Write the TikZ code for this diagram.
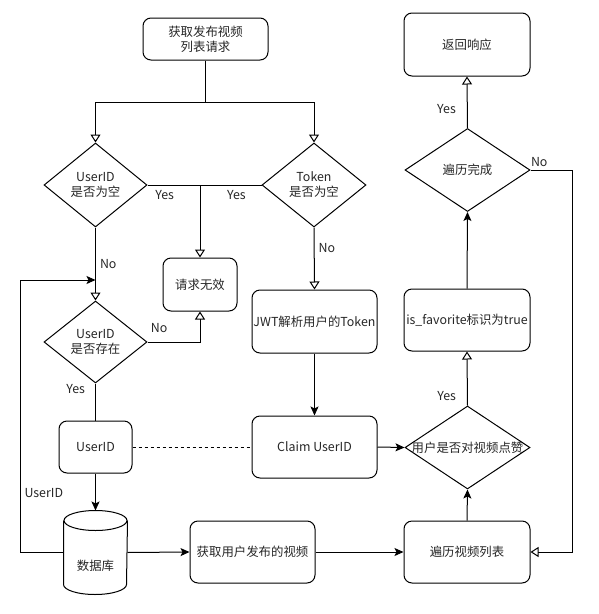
\documentclass[tikz,border=0pt]{standalone}
\usepackage{fontspec}
\setmainfont{Noto Sans CJK SC}
\usetikzlibrary{shapes.geometric,arrows.meta}

\begin{document}
\begin{tikzpicture}[x=1pt,y=-1pt,line width=1pt,
    font=\fontsize{12.4}{15}\selectfont, text=black!85,
    box/.style={draw, rounded corners=8pt, align=center, inner sep=0pt,
      minimum width=125pt, minimum height=62pt},
    smallbox/.style={box, minimum width=73pt, minimum height=53pt},
    choice/.style={draw, diamond, inner sep=0pt, minimum width=125pt, minimum height=83pt},
    opentip/.style={-{Triangle[open,length=8pt,width=10pt]}},
    solidtip/.style={-{Stealth[length=9pt,width=8pt,inset=2pt]}},
    lbl/.style={inner sep=0pt}]
  \useasboundingbox (0,0) rectangle (598,614);

  % request and the two checks
  \node[box, minimum height=42pt] (req) at (205.5,39) {获取发布视频\\列表请求};
  \node[choice, minimum width=103pt, minimum height=84pt,
    label={[align=center]center:UserID\\是否为空}] (idnull) at (95.5,185) {};
  \node[choice, minimum width=104pt, minimum height=84pt,
    label={[align=center]center:Token\\是否为空}] (toknull) at (314,185) {};
  \node[smallbox, minimum width=74pt] (invalid) at (200,284.5) {请求无效};
  \node[choice, minimum width=103pt, minimum height=82pt,
    label={[align=center]center:UserID\\是否存在}] (idexist) at (95.5,342) {};
  \node[smallbox, minimum height=52pt] (idbox) at (95.5,447) {UserID};
  \node[minimum width=63pt, minimum height=83pt, inner sep=0pt,
    label={[yshift=-13pt]center:数据库}] (db) at (95.5,552.5) {};
  \coordinate (entry) at (95.5,280);

  % token branch
  \node[box, minimum height=63pt] (jwt) at (314.5,321.5) {JWT解析用户的Token};
  \node[box] (claim) at (314.5,447) {Claim UserID};
  \node[box] (fetch) at (252.5,552) {获取用户发布的视频};

  % right column
  \node[box, minimum width=126pt, minimum height=63pt] (resp) at (467,44.5) {返回响应};
  \node[choice, label=center:遍历完成] (done) at (467.5,170) {};
  \node[box, minimum width=126pt] (fav) at (467,320) {is\_favorite标识为true};
  \node[choice, label={center:用户是否对视频点赞}] (like) at (467.5,447.5) {};
  \node[box, minimum width=126pt] (trav) at (467,552) {遍历视频列表};

  % cylinder
  \draw ([yshift=-10pt]db.north) ellipse [x radius=31.5pt, y radius=10pt];
  \draw ([yshift=-10pt]db.north west) -- ([yshift=10pt]db.south west)
    arc[start angle=180, end angle=360, x radius=31.5pt, y radius=10pt]
    -- ([yshift=-10pt]db.north east);

  % connectors
  \draw[opentip] (req.south) -- ++(0,42) -| (idnull.north);
  \draw[opentip] (req.south) -- ++(0,42) -| (toknull.north);
  \draw (idnull.east) -- (toknull.west)
    node[lbl, pos=0.15, below=5pt] {Yes}
    node[lbl, pos=0.78, below=5pt] {Yes};
  \draw[opentip] (idnull.east -| invalid.north) -- (invalid.north);
  \draw[opentip] (idnull.south) -- (idexist.north)
    node[lbl, pos=0.5, right=4pt] {No};
  \draw[opentip] (idexist.east) -| (invalid.south)
    node[lbl, pos=0.11, above=9pt] {No};
  \draw (idexist.south) -- (idbox.north)
    node[lbl, pos=0, anchor=north east, xshift=-10pt] {Yes};
  \draw[solidtip] (idbox.south) -- (db.north);
  \draw[solidtip] (db.west) -- ++(-43.5,0) |- (entry)
    node[lbl, pos=0.11, right=4pt] {UserID};
  \draw[solidtip] (db.east) -- (fetch.west);
  \draw[opentip] (toknull.south) -- (jwt.north)
    node[lbl, pos=0.33, right=4pt] {No};
  \draw[solidtip] (jwt.south) -- (claim.north);
  \draw[dashed] (idbox.east) -- (claim.west);
  \draw[solidtip] (claim.east) -- (like.west);
  \draw[solidtip] (fetch.east) -- (trav.west);
  \draw[solidtip] (trav.north) -- (like.south);
  \draw[opentip] (like.north) -- (fav.south)
    node[lbl, pos=0, anchor=south east, xshift=-11pt, yshift=4pt] {Yes};
  \draw[solidtip] (fav.north) -- (done.south);
  \draw[opentip] (done.north) -- (resp.south)
    node[lbl, pos=0.37, left=11pt] {Yes};
  \draw[opentip] (done.east)
    node[lbl, anchor=south west, yshift=3pt] {No}
    -- ++(42,0) |- (trav.east);
\end{tikzpicture}
\end{document}
